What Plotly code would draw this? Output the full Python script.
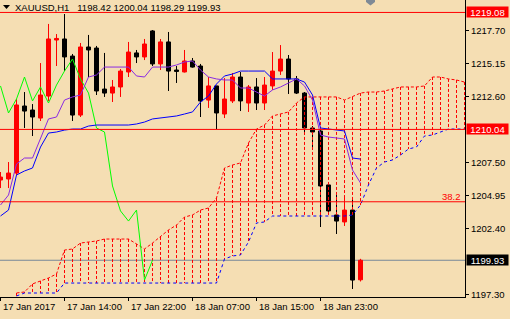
import plotly.graph_objects as go

# ---------------- data ----------------
bar_idx = list(range(46))
opens = [1206.13, 1206.21, 1206.67, 1211.85, 1211.54, 1210.92, 1212.62, 1216.95, 1217.03, 1215.71,
         1211.15, 1216.41, 1216.33, 1213.16, 1212.85, 1213.32, 1214.48, 1215.95, 1215.64, 1217.65,
         1215.10, 1216.80, 1214.63, 1214.48, 1215.33, 1214.94, 1212.31, 1213.40, 1211.23, 1212.24,
         1214.09, 1212.08, 1213.32, 1212.08, 1213.40, 1214.55, 1215.48, 1213.94, 1212.85, 1210.15,
         1209.92, 1205.75, 1203.43, 1202.89, 1203.81, 1198.42]
highs = [1206.75, 1207.52, 1212.39, 1212.93, 1212.00, 1215.17, 1218.19, 1217.41, 1218.96, 1215.87,
         1216.72, 1217.34, 1216.49, 1215.95, 1213.86, 1214.71, 1216.80, 1216.18, 1217.03, 1217.72,
         1217.03, 1217.57, 1214.94, 1216.18, 1215.56, 1215.10, 1214.09, 1213.40, 1214.01, 1214.40,
         1214.48, 1213.47, 1214.01, 1214.09, 1216.02, 1216.56, 1215.79, 1214.17, 1212.93, 1210.30,
         1209.99, 1205.82, 1204.97, 1204.82, 1204.82, 1200.04]
lows = [1205.51, 1205.51, 1206.52, 1210.15, 1209.53, 1210.69, 1212.24, 1214.94, 1214.55, 1210.69,
        1211.00, 1214.09, 1212.70, 1212.55, 1212.16, 1212.55, 1214.09, 1215.17, 1215.40, 1214.94,
        1214.63, 1213.01, 1213.63, 1214.44, 1214.82, 1211.00, 1211.70, 1210.07, 1210.92, 1212.08,
        1211.46, 1211.39, 1211.54, 1211.54, 1213.09, 1214.25, 1212.78, 1212.78, 1209.61, 1208.45,
        1202.50, 1203.66, 1201.96, 1202.58, 1197.71, 1198.29]
closes = [1206.36, 1206.67, 1211.93, 1211.46, 1211.00, 1212.70, 1217.03, 1217.07, 1215.64, 1211.15,
          1216.41, 1216.18, 1213.01, 1212.85, 1213.32, 1214.55, 1216.02, 1215.64, 1216.64, 1215.10,
          1216.80, 1214.55, 1214.52, 1215.33, 1214.86, 1212.24, 1213.40, 1211.31, 1212.39, 1214.09,
          1212.24, 1213.32, 1212.08, 1213.47, 1214.55, 1215.48, 1213.94, 1212.85, 1210.15, 1209.84,
          1205.67, 1203.74, 1202.96, 1203.81, 1198.40, 1199.93]

tenkan = [1204.20, 1204.97, 1207.37, 1207.83, 1207.83, 1209.38, 1210.85, 1211.00, 1212.31, 1212.55,
          1212.70, 1214.09, 1214.25, 1214.86, 1214.86, 1214.86, 1214.86, 1214.17, 1214.09, 1214.86,
          1214.86, 1214.86, 1215.02, 1215.25, 1215.33, 1214.63, 1214.09, 1213.94, 1213.86, 1213.86,
          1213.24, 1213.24, 1212.93, 1212.62, 1213.09, 1213.32, 1213.63, 1213.94, 1213.40, 1212.31,
          1209.61, 1209.45, 1209.38, 1209.30, 1206.90, 1205.90]
kijun = [1203.35, 1203.81, 1206.52, 1206.83, 1207.06, 1208.68, 1209.76, 1209.84, 1209.99, 1210.07,
         1210.07, 1210.30, 1210.38, 1210.38, 1210.38, 1210.38, 1210.38, 1210.46, 1210.61, 1210.85,
         1210.92, 1211.00, 1211.08, 1211.23, 1211.39, 1212.16, 1212.62, 1213.55, 1214.17, 1214.32,
         1214.55, 1214.55, 1214.55, 1214.55, 1213.94, 1213.94, 1213.94, 1213.94, 1213.70, 1212.70,
         1210.15, 1210.07, 1209.99, 1209.92, 1207.83, 1207.75]
chikou_idx = list(range(20))
chikou = [1213.40, 1211.31, 1212.39, 1214.09, 1212.24, 1213.32, 1212.08, 1213.47, 1214.55, 1215.48,
          1213.94, 1212.85, 1210.15, 1209.84, 1205.67, 1203.74, 1202.96, 1203.81, 1198.40, 1199.93]

span_idx = list(range(2, 59))
span_a = [1197.40, 1197.48, 1198.10, 1198.33, 1198.56, 1198.87, 1200.72, 1200.80, 1201.26, 1201.34,
          1201.42, 1201.57, 1201.57, 1201.57, 1201.57, 1201.19, 1200.80, 1201.26, 1201.73, 1202.27,
          1202.65, 1203.27, 1203.43, 1203.81, 1203.97, 1204.74, 1207.06, 1207.29, 1207.45, 1208.99,
          1210.07, 1210.38, 1211.08, 1211.23, 1211.39, 1212.08, 1212.55, 1212.55, 1212.55, 1212.55,
          1212.55, 1212.31, 1212.55, 1212.85, 1212.93, 1212.93, 1213.01, 1213.16, 1213.32, 1213.32,
          1213.32, 1213.40, 1214.09, 1214.09, 1213.94, 1213.86, 1213.70]
span_b = [1197.17, 1197.40, 1197.40, 1197.40, 1197.40, 1197.40,
          1198.17, 1198.17, 1198.17, 1198.17, 1198.17, 1198.17, 1198.17, 1198.17, 1198.17, 1198.17,
          1198.17, 1198.17, 1198.17, 1198.17, 1198.17, 1198.17, 1198.17, 1198.17, 1198.17, 1198.17,
          1200.03, 1200.26, 1200.34, 1201.34, 1202.81, 1202.89,
          1203.35, 1203.35, 1203.35, 1203.35, 1203.35, 1203.35, 1203.35, 1203.35, 1203.35, 1203.35,
          1203.43, 1204.20, 1205.75, 1207.06, 1207.52, 1207.68, 1208.06, 1208.53, 1208.68, 1209.53,
          1209.61, 1209.84, 1210.07, 1210.07, 1210.07]

time_ticks = [0, 8, 16, 24, 32, 40]
time_labels = ["17 Jan 2017", "17 Jan 14:00", "17 Jan 22:00", "18 Jan 07:00", "18 Jan 15:00", "18 Jan 23:00"]
price_ticks = [1197.30, 1202.40, 1204.95, 1207.50, 1212.60, 1215.15, 1217.70]
red_levels = [1219.08, 1210.04]
fib_level = 1204.45
fib_label = "38.2"
bid_price = 1199.93
title_text = "XAUUSD,H1\u00a0\u00a0 1198.42 1200.04 1198.29 1199.93"

# ---------------- styling ----------------
BG = "#F5DEB3"
UP = "#FF0000"
DN = "#000000"
FONT = "Liberation Sans, Arial, sans-serif"
FS = 9.5
W, H = 510, 319
ML, MR, MT, MB = 0, 45, 0, 22
PW, PH = W - ML - MR, H - MT - MB

fig = go.Figure()

inc = [i for i in bar_idx if closes[i] >= opens[i]]
dec = [i for i in bar_idx if closes[i] < opens[i]]

# wicks
for idx, col in ((inc, UP), (dec, DN)):
    xs, ys = [], []
    for i in idx:
        xs += [bar_idx[i], bar_idx[i], None]
        ys += [lows[i], highs[i], None]
    fig.add_trace(go.Scatter(x=xs, y=ys, mode="lines", line=dict(color=col, width=1),
                             hoverinfo="skip", showlegend=False))

# bodies
for idx, col in ((inc, UP), (dec, DN)):
    fig.add_trace(go.Bar(x=[bar_idx[i] for i in idx],
                         base=[min(opens[i], closes[i]) for i in idx],
                         y=[abs(closes[i] - opens[i]) for i in idx],
                         width=0.5, marker=dict(color=col, line=dict(color=col, width=1)),
                         hoverinfo="skip", showlegend=False))

# kumo hatching
cx, cy = [], []
for i, k in enumerate(span_idx):
    cx += [k, k, None]
    cy += [span_a[i], span_b[i], None]
fig.add_trace(go.Scatter(x=cx, y=cy, mode="lines", line=dict(color="#FF0000", width=1, dash="3px,2px"),
                         hoverinfo="skip", showlegend=False))
fig.add_trace(go.Scatter(x=span_idx, y=span_a, mode="lines", line=dict(color="#FF0000", width=1, dash="3px,2px"),
                         hoverinfo="skip", showlegend=False))
fig.add_trace(go.Scatter(x=span_idx, y=span_b, mode="lines", line=dict(color="#0000FF", width=1, dash="3px,3px"),
                         hoverinfo="skip", showlegend=False))

# chikou, kijun, tenkan
fig.add_trace(go.Scatter(x=chikou_idx, y=chikou, mode="lines", line=dict(color="#00FF00", width=1),
                         hoverinfo="skip", showlegend=False))
fig.add_trace(go.Scatter(x=bar_idx, y=kijun, mode="lines", line=dict(color="#0000FF", width=1),
                         hoverinfo="skip", showlegend=False))
fig.add_trace(go.Scatter(x=bar_idx, y=tenkan, mode="lines", line=dict(color="#8A2BE2", width=1),
                         hoverinfo="skip", showlegend=False))

shapes = []
# bid line
shapes.append(dict(type="line", xref="paper", x0=0, x1=1, yref="y", y0=bid_price, y1=bid_price,
                   line=dict(color="#778899", width=1), layer="below"))
for lv in red_levels + [fib_level]:
    shapes.append(dict(type="line", xref="paper", x0=0, x1=1, yref="y", y0=lv, y1=lv,
                       line=dict(color="#FF0000", width=1), layer="above"))


def px2paper(pts):
    return " ".join(("M" if j == 0 else "L") + f"{x / PW:.5f},{1 - y / PH:.5f}" for j, (x, y) in enumerate(pts)) + " Z"


# small menu triangle and chart-shift marker
shapes.append(dict(type="path", xref="paper", yref="paper", path=px2paper([(3, 5), (10, 5), (6.5, 9)]),
                   fillcolor="#000000", line=dict(width=0)))
shapes.append(dict(type="path", xref="paper", yref="paper",
                   path=px2paper([(366, 0), (375, 0), (375, 2), (370.5, 5.5), (366, 2)]),
                   fillcolor="#7F8A96", line=dict(width=0)))

annotations = []
for t, lab in zip(time_ticks, time_labels):
    annotations.append(dict(x=t, xref="x", y=0, yref="paper", xanchor="left", yanchor="top",
                            xshift=0, yshift=-2, text=lab, showarrow=False,
                            font=dict(family=FONT, size=FS, color="black")))
for lv, bg in ((red_levels[0], "#FF0000"), (red_levels[1], "#FF0000"), (bid_price, "#000000")):
    annotations.append(dict(x=1, xref="paper", y=lv, yref="y", xanchor="left", yanchor="middle",
                            xshift=1, text=f"{lv:.2f}", showarrow=False, bgcolor=bg, width=41, height=10,
                            borderpad=0, align="center", font=dict(family=FONT, size=FS, color="white")))
annotations.append(dict(x=1, xref="paper", y=fib_level, yref="y", xanchor="right", yanchor="bottom",
                        xshift=-2, yshift=-2, text=fib_label, showarrow=False,
                        font=dict(family=FONT, size=FS, color="#FF0000")))
annotations.append(dict(x=0, xref="paper", y=1, yref="paper", xanchor="left", yanchor="top",
                        xshift=13, yshift=0, text=title_text, showarrow=False,
                        font=dict(family=FONT, size=FS, color="black")))

fig.update_layout(width=W, height=H, margin=dict(l=ML, r=MR, t=MT, b=MB, pad=0),
                  paper_bgcolor=BG, plot_bgcolor=BG, barmode="overlay", showlegend=False,
                  font=dict(family=FONT, size=FS, color="black"),
                  shapes=shapes, annotations=annotations)
fig.update_xaxes(range=[-0.0625, 58.0625], showgrid=False, zeroline=False, showline=True,
                 linecolor="black", linewidth=1, ticks="outside", ticklen=3, tickcolor="black",
                 tickvals=time_ticks, showticklabels=False, fixedrange=True)
fig.update_yaxes(side="right", range=[1197.091, 1220.041], showgrid=False, zeroline=False, showline=True,
                 linecolor="black", linewidth=1, ticks="outside", ticklen=3, tickcolor="black",
                 tickvals=price_ticks, ticktext=[f"{v:.2f}" for v in price_ticks],
                 tickfont=dict(family=FONT, size=FS, color="black"), fixedrange=True)

fig.write_html("out.html", config={"displayModeBar": False})
